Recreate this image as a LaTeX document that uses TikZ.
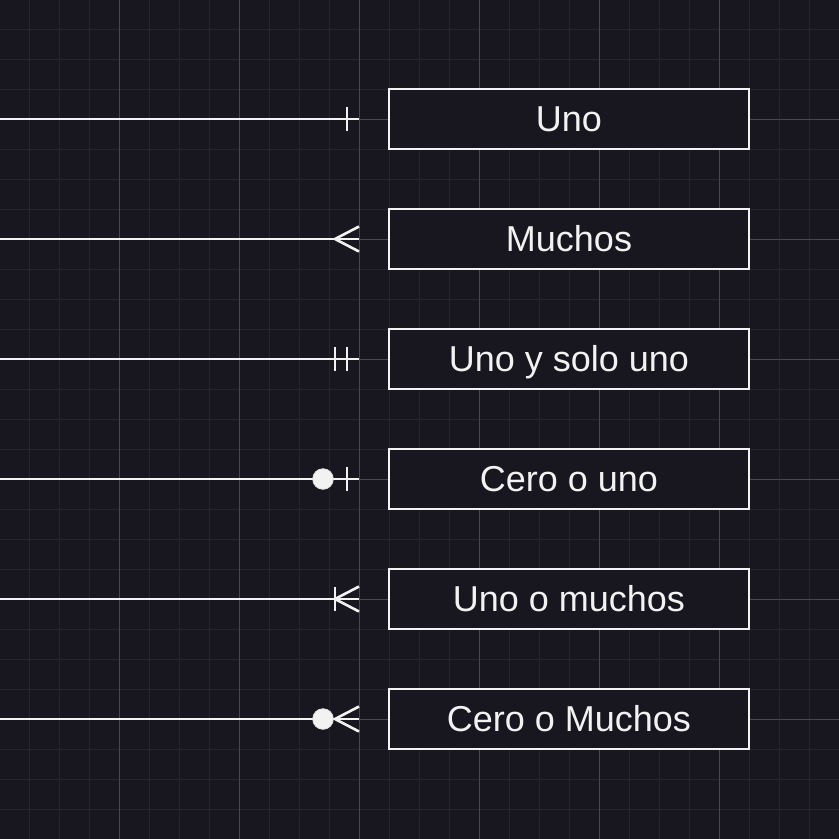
\documentclass[tikz,border=0pt]{standalone}
\usepackage{fontspec}
\setmainfont{Liberation Sans}
\definecolor{bgc}{HTML}{18161F}
\definecolor{minorc}{HTML}{23233E}
\definecolor{majorc}{HTML}{3A4585}
\definecolor{fgc}{HTML}{F2F2F2}
\tikzset{
  entbox/.style={draw=fgc, fill=bgc, line width=2.6pt, minimum width=360pt, minimum height=60pt,
    inner sep=0pt, outer sep=0pt, text=fgc, font=\fontsize{36}{40}\selectfont, text height=28pt, text depth=4pt},
  conn/.style={draw=fgc, line width=2.8pt},
  ermark/.style={draw=fgc, line width=2.6pt},
  dotm/.style={fill=fgc, draw=fgc!85!gray, line width=0.8pt}
}
\begin{document}
\begin{tikzpicture}[x=1pt,y=-1pt]
\useasboundingbox (0,0) rectangle (839,839);
\fill[bgc] (0,0) rectangle (839,839);
% grid
\foreach \k in {1,...,27}{
  \pgfmathsetmacro\p{30*\k-0.5}
  \draw[minorc, line width=1pt] (\p,0) -- (\p,839);
  \draw[minorc, line width=1pt] (0,\p) -- (839,\p);
}
\foreach \k in {1,...,6}{
  \pgfmathsetmacro\p{120*\k-0.5}
  \draw[majorc, line width=1pt] (\p,0) -- (\p,839);
  \draw[majorc, line width=1pt] (0,\p) -- (839,\p);
}
% boxes
\node[entbox] (b1) at (569,119) {Uno};
\node[entbox] (b2) at (569,239) {Muchos};
\node[entbox] (b3) at (569,359) {Uno y solo uno};
\node[entbox] (b4) at (569,479) {Cero o uno};
\node[entbox] (b5) at (569,599) {Uno o muchos};
\node[entbox] (b6) at (569,719) {Cero o Muchos};
% connector start points and end points
\foreach \i in {1,...,6}{
  \coordinate (s\i) at (b\i.west -| 0,0);
  \coordinate (e\i) at ([xshift=-30pt]b\i.west);
  \draw[conn] (s\i) -- (e\i);
}
% 1: one
\draw[ermark] ([xshift=-12pt,yshift=12pt]e1) -- ([xshift=-12pt,yshift=-12pt]e1);
% 2: many
\draw[ermark] ([yshift=12.5pt]e2) -- ([xshift=-24pt]e2) -- ([yshift=-12.5pt]e2);
% 3: mandatory one
\draw[ermark] ([xshift=-12pt,yshift=12pt]e3) -- ([xshift=-12pt,yshift=-12pt]e3);
\draw[ermark] ([xshift=-24pt,yshift=12pt]e3) -- ([xshift=-24pt,yshift=-12pt]e3);
% 4: zero or one
\draw[ermark] ([xshift=-12pt,yshift=12pt]e4) -- ([xshift=-12pt,yshift=-12pt]e4);
\filldraw[dotm] ([xshift=-36pt]e4) circle (10.3pt);
% 5: one or many
\draw[ermark] ([yshift=12.5pt]e5) -- ([xshift=-24pt]e5) -- ([yshift=-12.5pt]e5);
\draw[ermark] ([xshift=-24pt,yshift=12pt]e5) -- ([xshift=-24pt,yshift=-12pt]e5);
% 6: zero or many
\draw[ermark] ([yshift=12.5pt]e6) -- ([xshift=-24pt]e6) -- ([yshift=-12.5pt]e6);
\filldraw[dotm] ([xshift=-36pt]e6) circle (10.3pt);
\end{tikzpicture}
\end{document}
